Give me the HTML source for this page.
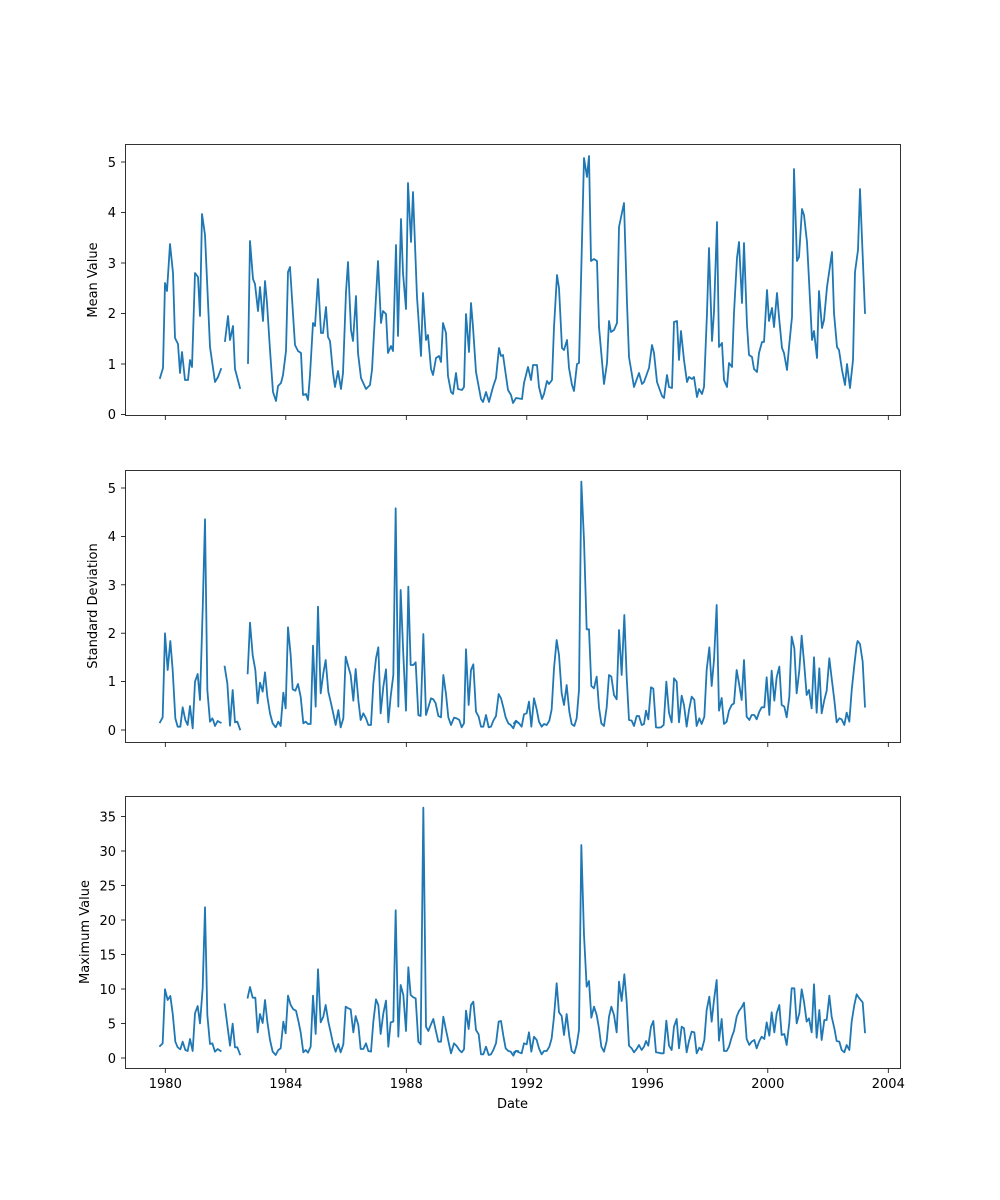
<!DOCTYPE html>
<html><head><meta charset="utf-8"><style>
html,body{margin:0;padding:0;background:#fff;}
svg{display:block;}
text{font-family:"DejaVu Sans","Liberation Sans",sans-serif;font-size:13px;fill:#000;}
.ln{fill:none;stroke:#1f77b4;stroke-width:1.8;stroke-linejoin:round;stroke-linecap:square;}
.fr{fill:none;stroke:#000;stroke-width:0.8;}
.tk{stroke:#000;stroke-width:0.8;}
</style></head><body>
<svg width="1000" height="1200" viewBox="0 0 1000 1200" xmlns="http://www.w3.org/2000/svg">
<rect width="1000" height="1200" fill="#fff"/>

<!-- Panel 1 -->
<polyline class="ln" points="160,378 163,368 165,283 167,291 170,244 173,273 175,338 178,344 180,373 182,352 185,380 188,380 190,360 192,367 195,273 198,277 200,316 202,214 205,235 210,347 215,382 218,377 221,369"/>
<polyline class="ln" points="225,341 228,316 230,340 233,326 235,369 240,388"/>
<polyline class="ln" points="248,363 250,241 253,279 255,284 258,311 260,287 263,321 265,281 267,303 270,350 273,392 276,401 278,386 281,383 283,375 286,351 288,272 290,267 295,345 298,351 301,353 303,395 306,394 308,400 310,375 313,323 315,326 318,279 321,333 323,333 326,307 328,337 330,341 333,373 335,387 338,371 341,389 343,373 346,292 348,262 351,330 353,341 356,296 358,353 361,378 366,389 370,385 372,370 376,297 378,261 381,323 383,311 386,314 388,353 391,346 393,351 396,245 398,336 401,219 403,273 406,309 408,183 411,242 413,192 417,297 421,356 423,293 426,340 428,335 431,369 433,375 436,358 439,356 441,362 443,323 446,333 448,376 451,392 453,394 456,373 458,389 462,390 464,387 466,314 469,352 471,303 473,327 476,372 481,399 483,402 486,392 489,402 493,387 496,378 499,348 501,356 503,355 508,390 511,395 513,403 516,398 522,399 524,383 528,367 531,380 533,365 537,365 539,387 542,399 544,394 547,381 549,384 552,380 554,327 557,275 559,288 562,348 564,350 567,340 569,368 572,385 574,391 577,364 579,363 584,158 587,177 589,156 591,261 594,259 597,261 599,327 604,384 607,363 609,321 611,332 614,330 617,323 619,227 624,203 627,303 629,357 634,387 639,373 642,384 644,382 649,368 652,345 654,353 657,382 662,396 664,398 667,375 669,387 672,388 674,322 677,321 679,360 681,331 684,360 687,382 689,377 692,379 694,377 697,397 699,389 702,394 704,387 707,313 709,248 712,341 714,312 717,222 719,347 722,343 724,380 727,387 729,363 732,367 734,313 737,258 739,242 742,303 744,243 747,325 749,355 752,357 754,369 757,372 759,353 762,342 764,342 767,290 769,321 772,308 774,327 777,293 779,317 782,348 784,353 787,370 789,347 792,317 794,169 797,261 799,257 802,209 804,215 807,242 809,280 812,340 814,331 817,358 819,291 822,328 824,320 827,287 829,273 832,252 834,313 837,347 839,350 842,370 845,385 847,364 850,388 853,360 855,272 858,250 860,189 865,313"/>
<rect class="fr" x="125.5" y="144.5" width="775" height="271"/>
<g class="tk">
<line x1="121" y1="414.5" x2="125.5" y2="414.5"/><line x1="121" y1="364" x2="125.5" y2="364"/><line x1="121" y1="313.5" x2="125.5" y2="313.5"/><line x1="121" y1="263" x2="125.5" y2="263"/><line x1="121" y1="212.5" x2="125.5" y2="212.5"/><line x1="121" y1="162" x2="125.5" y2="162"/>
<line x1="165.3" y1="415.5" x2="165.3" y2="420"/><line x1="285.8" y1="415.5" x2="285.8" y2="420"/><line x1="406.3" y1="415.5" x2="406.3" y2="420"/><line x1="526.8" y1="415.5" x2="526.8" y2="420"/><line x1="647.3" y1="415.5" x2="647.3" y2="420"/><line x1="767.8" y1="415.5" x2="767.8" y2="420"/><line x1="888.3" y1="415.5" x2="888.3" y2="420"/>
</g>
<g text-anchor="end">
<text x="116" y="419">0</text><text x="116" y="369">1</text><text x="116" y="318">2</text><text x="116" y="268">3</text><text x="116" y="217">4</text><text x="116" y="167">5</text>
</g>
<text transform="translate(97,280) rotate(-90)" text-anchor="middle">Mean Value</text>

<!-- Panel 2 -->
<g transform="translate(150,470) scale(0.33333)">
<polyline class="ln" vector-effect="non-scaling-stroke" points="30,757 38,742 45,490 53,600 61,513 68,600 76,745 83,770 91,770 98,712 106,750 113,765 120,708 128,775 135,635 143,612 150,690 158,420 165,148 172,660 180,755 187,745 190,752 195,768 203,753 212,758"/>
<polyline class="ln" vector-effect="non-scaling-stroke" points="224,590 232,640 240,767 248,660 255,757 262,755 270,778"/>
<polyline class="ln" vector-effect="non-scaling-stroke" points="293,610 300,458 308,555 316,600 323,700 330,638 338,665 345,607 352,680 360,730 368,760 377,772 385,755 392,768 400,668 407,715 414,472 422,555 428,658 436,662 444,642 452,680 460,760 467,755 474,762 482,762 489,527 497,710 504,410 512,670 520,610 527,570 535,665 542,695 549,727 557,765 565,720 572,772 580,745 587,560 595,590 602,615 610,692 617,597 625,690 632,750 640,730 648,745 655,765 663,765 670,640 678,565 685,532 692,730 700,650 708,598 715,757 722,680 730,615 737,115 745,710 752,360 760,555 768,722 775,350 782,585 790,585 797,577 805,735 812,738 820,492 828,735 835,712 843,685 850,688 857,700 865,738 873,742 880,615 888,672 895,742 903,765 912,743 920,745 928,750 935,772 942,760 948,538 956,705 963,600 970,583 978,725 986,740 993,770 1000,770 1008,735 1016,772 1023,770 1030,752 1038,738 1046,672 1053,685 1060,712 1067,742 1075,760 1082,765 1090,775 1097,755 1104,758"/>
</g>
<g transform="translate(510,470) scale(0.33333)">
<polyline class="ln" vector-effect="non-scaling-stroke" points="12,760 18,752 27,760 35,770 42,733 50,730 57,695 64,770 72,685 80,718 87,755 95,770 102,762 110,765 118,752 125,718 132,595 140,510 147,555 155,670 162,705 170,645 178,725 185,762 193,768 200,745 207,660 214,35 222,210 230,478 237,478 244,648 252,655 260,620 267,712 274,760 282,768 290,712 297,615 304,620 312,675 320,688 327,480 335,615 343,435 350,620 357,750 365,752 372,768 380,738 387,738 395,765 402,762 408,722 415,748 423,652 430,656 438,772 445,773 453,772 461,765 469,635 477,728 485,757 492,625 500,635 507,757 515,677 522,705 530,770 537,720 545,680 553,690 560,768 568,745 575,762 583,740 590,600 598,532 605,648 612,570 620,405 627,722 635,684 642,762 650,755 657,722 665,705 672,700 680,600 687,640 695,690 702,570 710,740 718,750 725,735 733,735 740,748 748,725 755,712 763,712 770,622 778,735 785,602 793,692 800,622 808,590 815,705 823,710 830,742 838,680 845,500 853,535 860,670 868,600 875,497 882,575 890,675 897,660 905,715 912,562 920,728 928,595 935,730 943,690 950,662 958,565 965,625 973,690 980,757 988,745 995,748 1003,765 1010,728 1018,755 1025,662 1033,585 1040,525 1043,513 1050,522 1058,575 1065,710"/>
</g>
<rect class="fr" x="125.5" y="470.5" width="775" height="272"/>
<g class="tk">
<line x1="121" y1="730" x2="125.5" y2="730"/><line x1="121" y1="681.6" x2="125.5" y2="681.6"/><line x1="121" y1="633.2" x2="125.5" y2="633.2"/><line x1="121" y1="584.8" x2="125.5" y2="584.8"/><line x1="121" y1="536.4" x2="125.5" y2="536.4"/><line x1="121" y1="488" x2="125.5" y2="488"/>
<line x1="165.3" y1="742.5" x2="165.3" y2="747"/><line x1="285.8" y1="742.5" x2="285.8" y2="747"/><line x1="406.3" y1="742.5" x2="406.3" y2="747"/><line x1="526.8" y1="742.5" x2="526.8" y2="747"/><line x1="647.3" y1="742.5" x2="647.3" y2="747"/><line x1="767.8" y1="742.5" x2="767.8" y2="747"/><line x1="888.3" y1="742.5" x2="888.3" y2="747"/>
</g>
<g text-anchor="end">
<text x="116" y="735">0</text><text x="116" y="686">1</text><text x="116" y="638">2</text><text x="116" y="590">3</text><text x="116" y="541">4</text><text x="116" y="493">5</text>
</g>
<text transform="translate(97,606) rotate(-90)" text-anchor="middle">Standard Deviation</text>

<!-- Panel 3 -->
<g transform="translate(150,795) scale(0.33333)">
<polyline class="ln" vector-effect="non-scaling-stroke" points="30,753 38,745 45,583 53,615 61,603 68,655 76,740 83,757 91,763 98,740 106,765 113,768 120,732 128,768 135,655 143,633 150,685 158,580 165,337 172,660 180,747 187,745 195,770 203,762 212,768"/>
<polyline class="ln" vector-effect="non-scaling-stroke" points="224,628 232,690 240,752 248,686 255,757 262,757 270,778"/>
<polyline class="ln" vector-effect="non-scaling-stroke" points="293,608 300,576 308,608 316,608 323,712 330,657 338,684 345,615 352,680 360,735 368,770 377,780 385,765 392,760 400,680 407,715 414,602 422,630 430,643 438,647 446,682 452,712 460,772 467,765 474,773 482,755 489,602 497,717 504,523 512,682 520,665 527,630 535,680 542,712 549,745 557,770 565,747 572,772 580,748 587,635 595,640 602,643 610,712 617,663 625,690 632,762 640,762 648,745 655,768 663,770 670,680 678,613 685,630 692,717 700,655 708,617 715,755 722,682 730,680 737,346 745,725 752,570 760,600 768,708 775,517 782,600 790,607 797,610 805,740 812,748 820,38 828,695 835,708 843,688 850,672 857,705 865,740 873,740 880,665 888,705 895,738 903,775 912,745 920,753 928,765 935,772 942,763 948,647 956,702 963,630 970,620 978,705 986,718 993,778 1000,778 1008,755 1016,780 1023,778 1030,765 1038,745 1046,680 1053,678 1060,722 1067,760 1075,768 1082,770 1090,782 1097,768 1104,768"/>
</g>
<g transform="translate(510,795) scale(0.33333)">
<polyline class="ln" vector-effect="non-scaling-stroke" points="12,772 18,768 27,772 35,775 42,745 50,748 57,712 64,770 72,725 80,735 87,760 95,778 102,768 110,768 118,755 125,730 132,665 140,565 147,652 155,663 162,720 170,657 178,725 185,768 193,775 200,750 207,705 214,150 222,420 230,575 237,558 244,668 252,635 260,660 267,700 274,755 282,770 290,738 297,665 304,635 312,660 320,712 327,560 335,618 343,538 350,620 357,752 365,760 372,772 380,762 387,750 395,765 402,755 408,738 415,752 423,695 430,678 438,772 445,773 453,775 461,775 469,677 477,752 485,765 492,695 500,672 507,760 515,695 522,700 530,772 537,738 545,710 553,712 560,775 568,758 575,765 583,735 590,645 598,605 605,680 612,615 620,555 627,737 635,672 642,768 650,768 657,755 665,727 672,708 680,665 687,648 695,637 702,623 710,732 718,750 725,740 733,735 740,760 748,738 755,725 763,732 770,682 778,722 785,652 793,712 800,655 808,630 815,720 823,717 830,750 838,682 845,580 853,580 860,685 868,655 875,583 882,620 890,680 897,670 905,712 912,568 920,728 928,645 935,735 943,675 950,675 958,602 965,665 973,700 980,738 988,740 995,765 1003,772 1010,750 1018,765 1025,680 1033,630 1040,598 1048,610 1058,622 1065,712"/>
</g>
<rect class="fr" x="125.5" y="796.5" width="775" height="272"/>
<g class="tk">
<line x1="121" y1="1058" x2="125.5" y2="1058"/><line x1="121" y1="1023.5" x2="125.5" y2="1023.5"/><line x1="121" y1="989" x2="125.5" y2="989"/><line x1="121" y1="954.5" x2="125.5" y2="954.5"/><line x1="121" y1="920" x2="125.5" y2="920"/><line x1="121" y1="885.5" x2="125.5" y2="885.5"/><line x1="121" y1="851" x2="125.5" y2="851"/><line x1="121" y1="816.5" x2="125.5" y2="816.5"/>
<line x1="165.3" y1="1068.5" x2="165.3" y2="1073"/><line x1="285.8" y1="1068.5" x2="285.8" y2="1073"/><line x1="406.3" y1="1068.5" x2="406.3" y2="1073"/><line x1="526.8" y1="1068.5" x2="526.8" y2="1073"/><line x1="647.3" y1="1068.5" x2="647.3" y2="1073"/><line x1="767.8" y1="1068.5" x2="767.8" y2="1073"/><line x1="888.3" y1="1068.5" x2="888.3" y2="1073"/>
</g>
<g text-anchor="end">
<text x="116" y="1063">0</text><text x="116" y="1028.5">5</text><text x="116" y="994">10</text><text x="116" y="959.5">15</text><text x="116" y="925">20</text><text x="116" y="890.5">25</text><text x="116" y="856">30</text><text x="116" y="821.5">35</text>
</g>
<g text-anchor="middle">
<text x="165.3" y="1088">1980</text><text x="285.8" y="1088">1984</text><text x="406.3" y="1088">1988</text><text x="526.8" y="1088">1992</text><text x="647.3" y="1088">1996</text><text x="767.8" y="1088">2000</text><text x="888.3" y="1088">2004</text>
<text x="512.5" y="1108">Date</text>
</g>
<text transform="translate(89,932) rotate(-90)" text-anchor="middle">Maximum Value</text>
</svg>
</body></html>
